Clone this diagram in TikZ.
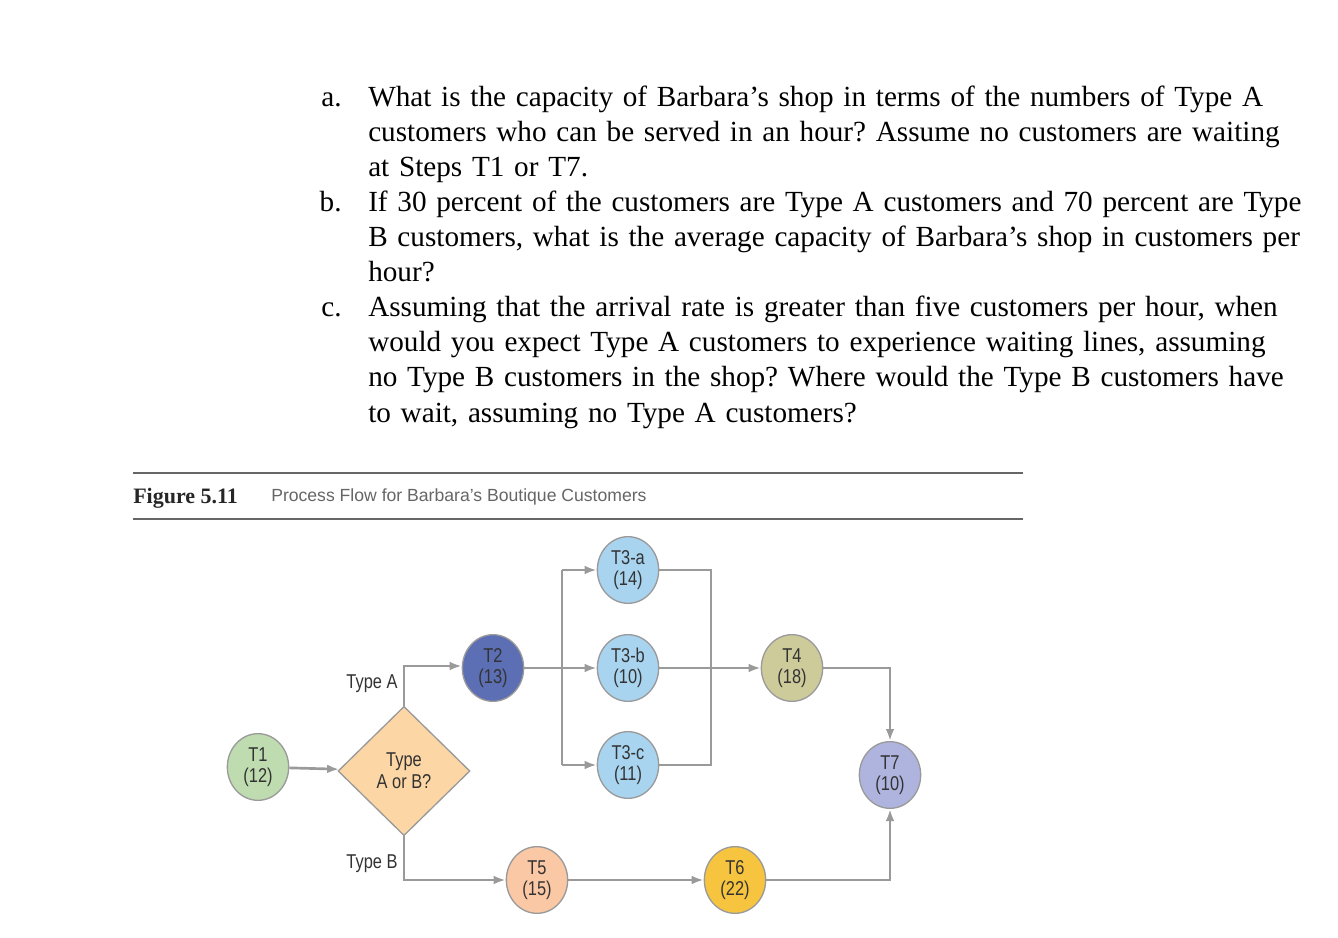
\documentclass[tikz,border=0pt]{standalone}
\usepackage{fontspec}
\setmainfont{Liberation Serif}
\setsansfont{Liberation Sans}
\newfontfamily\narrowsans[FakeStretch=0.82]{Liberation Sans}
\usetikzlibrary{shapes.geometric,arrows.meta}
\definecolor{ln}{HTML}{9A9A9A}
\tikzset{
 x=0.75pt,y=-0.75pt,
 task/.style={ellipse,draw=ln,line width=1pt,minimum width=46pt,minimum height=50pt,inner sep=0pt,align=center,font=\narrowsans\fontsize{15}{16}\selectfont,text=black!80},
 flow/.style={draw=ln,line width=2pt,-{Latex[length=9pt,width=6.5pt]}},
 ln/.style={draw=ln,line width=2pt},
 qtext/.style={anchor=north west,align=left,text width=701pt,font=\fontsize{21.9}{26.3}\selectfont,inner sep=0pt},
 lbl/.style={font=\narrowsans\fontsize{15}{16}\selectfont,text=black!80}
}
\newcommand{\itm}[1]{\makebox[0pt][r]{#1\hspace{20pt}}}
\begin{document}
\begin{tikzpicture}
\useasboundingbox (0,0) rectangle (1338,938);
\fill[white] (0,0) rectangle (1338,938);
\node[qtext] (qa) at (368,86) {\frenchspacing\hyphenpenalty=10000\raggedright\itm{a.}What is the capacity of Barbara’s shop in terms of the numbers of Type A customers who can be served in an hour? Assume no customers are waiting at Steps T1 or T7.\par};
\node[qtext] (qb) at (368,191) {\frenchspacing\hyphenpenalty=10000\raggedright\itm{b.}If 30 percent of the customers are Type A customers and 70 percent are Type B customers, what is the average capacity of Barbara’s shop in customers per hour?\par};
\node[qtext] (qc) at (368,296) {\frenchspacing\hyphenpenalty=10000\raggedright\itm{c.}Assuming that the arrival rate is greater than five customers per hour, when would you expect Type A customers to experience waiting lines, assuming no Type B customers in the shop? Where would the Type B customers have to wait, assuming no Type A customers?\par};
\draw[black!60,line width=0.8pt] (133,473) -- (1023,473);
\draw[black!60,line width=0.8pt] (133,519) -- (1023,519);
\node[anchor=west,inner sep=0pt,font=\bfseries\fontsize{16.5}{17}\selectfont,text=black!85] (fig) at (133,498) {Figure 5.11};
\node[anchor=west,inner sep=0pt,font=\sffamily\fontsize{13.2}{14}\selectfont,text=black!60] (cap) at (271,497) {Process Flow for Barbara’s Boutique Customers};
\node[task,fill={rgb,255:red,190;green,220;blue,175}] (t1) at (258,767) {T1\\(12)};
\node[diamond,draw=ln,line width=1pt,fill={rgb,255:red,252;green,214;blue,165},minimum width=99pt,minimum height=97pt,inner sep=0pt,align=center,font=\narrowsans\fontsize{15}{16.5}\selectfont,text=black!80] (d) at (404,771) {Type\\A or B?};
\node[task,fill={rgb,255:red,92;green,110;blue,180}] (t2) at (493,668) {T2\\(13)};
\node[task,fill={rgb,255:red,168;green,212;blue,240}] (t3a) at (628,570) {T3-a\\(14)};
\node[task,fill={rgb,255:red,168;green,212;blue,240}] (t3b) at (628,668) {T3-b\\(10)};
\node[task,fill={rgb,255:red,168;green,212;blue,240}] (t3c) at (628,765) {T3-c\\(11)};
\node[task,fill={rgb,255:red,206;green,203;blue,155}] (t4) at (792,668) {T4\\(18)};
\node[task,fill={rgb,255:red,175;green,180;blue,222}] (t7) at (890,775) {T7\\(10)};
\node[task,fill={rgb,255:red,250;green,200;blue,165}] (t5) at (537,880) {T5\\(15)};
\node[task,fill={rgb,255:red,246;green,196;blue,62}] (t6) at (735,880) {T6\\(22)};
\node[lbl] (ta) at (372,684) {Type A};
\node[lbl] (tb) at (372,864) {Type B};
\coordinate (ua) at (404,666);
\coordinate (ub) at (404,880);
\coordinate (sp) at (562,668);
\coordinate (mg) at (711,668);
\draw[flow] (d.north) -- (ua) -- (t2.west |- ua);
\draw[flow] (t1) -- (d);
\draw[flow] (d.south) -- (ub) -- (t5);
\draw[ln] (t2) -- (sp);
\draw[flow] (sp) -- (t3b);
\draw[flow] (sp |- t3a) -- (t3a);
\draw[flow] (sp |- t3c) -- (t3c);
\draw[ln] (sp |- t3a) -- (sp |- t3c);
\draw[ln] (t3a) -- (mg |- t3a) -- (mg |- t3c) -- (t3c);
\draw[ln] (t3b) -- (mg);
\draw[flow] (mg) -- (t4);
\draw[flow] (t4) -| (t7);
\draw[flow] (t5) -- (t6);
\draw[flow] (t6) -| (t7);
\end{tikzpicture}
\end{document}
